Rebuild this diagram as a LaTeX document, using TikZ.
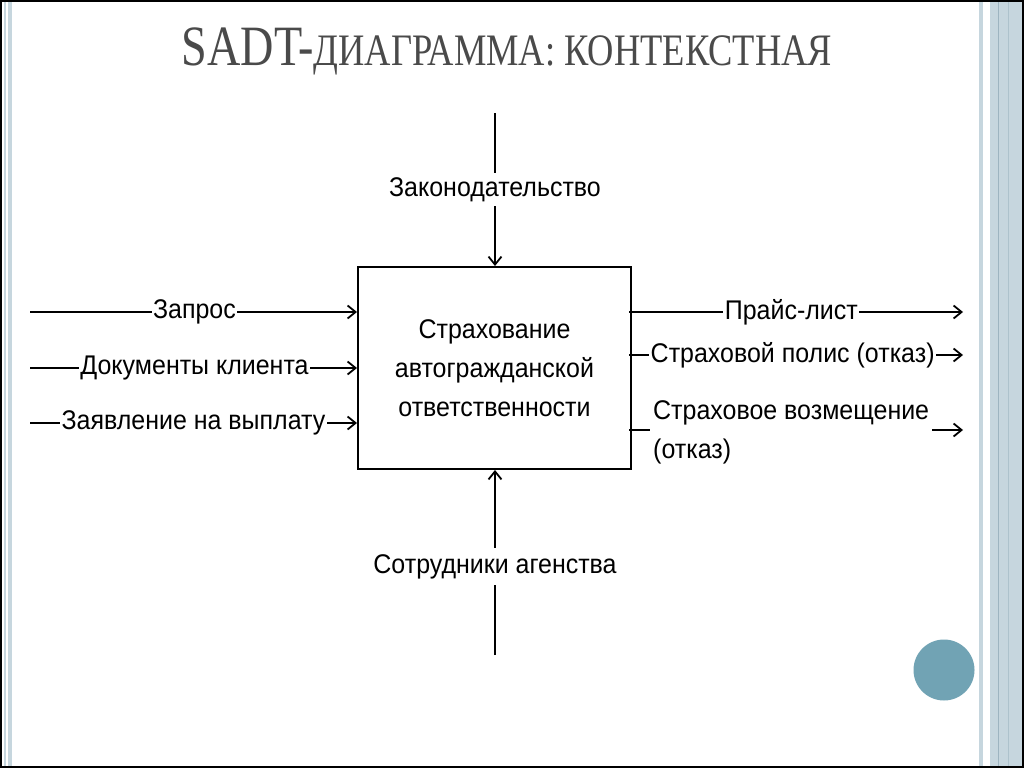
\documentclass[tikz,border=0pt]{standalone}
\usepackage{fontspec}
\setmainfont[FakeStretch=0.925]{Liberation Sans}
\newfontfamily\titlefont{Liberation Serif}
\usetikzlibrary{arrows.meta}
\definecolor{stripe}{HTML}{C6D6DE}
\definecolor{stripedark}{HTML}{9DB4C0}
\definecolor{dot}{HTML}{71A3B4}
\definecolor{titlegray}{HTML}{4A4A4A}
\tikzset{
  lbl/.style={font=\fontsize{27}{31}\selectfont, fill=white, inner xsep=1.5pt, inner ysep=4pt},
  flow/.style={line width=1.8pt, -{Straight Barb[length=8pt,width=13pt,line width=1.8pt]}},
  func/.style={draw, line width=2pt, minimum width=273pt, minimum height=202pt, inner sep=0pt,
    align=center, font=\fontsize{27}{39}\selectfont},
}
\begin{document}
\begin{tikzpicture}[x=1pt,y=-1pt]
\useasboundingbox (0,0) rectangle (1024,768);
% slide decoration
\fill[white] (0,0) rectangle (1024,768);
\fill[stripe] (4,1) rectangle (6,767);
\fill[stripe] (8,1) rectangle (12,767);
\fill[stripe] (979,1) rectangle (983,767);
\fill[stripe] (990,1) rectangle (1022,767);
\fill[stripedark] (997.5,1) rectangle (998.5,767);
\fill[stripedark!60!stripe] (1007.5,1) rectangle (1008.5,767);
\draw[black, line width=2pt] (1,1) rectangle (1023,767);
\fill[dot] (944,670) circle (30.5);
% title
\node[anchor=base, text=titlegray, inner sep=0pt] (title) at (507,66)
  {\scalebox{0.81}[1]{\titlefont\fontsize{57}{60}\selectfont SADT-\fontsize{45}{50}\selectfont ДИАГРАММА: КОНТЕКСТНАЯ}};
% function box
\node[func] (box) at (494.5,368) {Страхование\\автогражданской\\ответственности};
% control
\coordinate (ctop) at (495,113);
\draw[flow] (ctop) -- (box.north -| ctop) node[lbl, pos=0.5] (ctl) {Законодательство};
% mechanism
\coordinate (cbot) at (495,655);
\draw[flow] (cbot) -- (box.south -| cbot) node[lbl, pos=0.478, inner ysep=6pt] (mech) {Сотрудники агенства};
% inputs
\coordinate (i1) at (30,312);
\coordinate (i2) at (30,368);
\coordinate (i3) at (30,423);
\draw[flow] (i1) -- (box.west |- i1) node[lbl, pos=0.503] (in1) {Запрос};
\draw[flow] (i2) -- (box.west |- i2) node[lbl, pos=0.503] (in2) {Документы клиента};
\draw[flow] (i3) -- (box.west |- i3) node[lbl, pos=0.5] (in3) {Заявление на выплату};
% outputs
\coordinate (o1) at (963,312);
\coordinate (o2) at (963,355);
\coordinate (o3) at (963,430);
\draw[flow] (box.east |- o1) ++(-3,0) -- (o1) node[lbl, pos=0.486] (out1) {Прайс-лист};
\draw[flow] (box.east |- o2) ++(-3,0) -- (o2) node[lbl, pos=0.49] (out2) {Страховой полис (отказ)};
\draw[flow] (box.east |- o3) ++(-3,0) -- (o3);
\node[lbl, anchor=west, align=left, inner xsep=3pt, font=\fontsize{27}{39}\selectfont] (out3) at (650,432)
  {Страховое возмещение\\(отказ)};
\end{tikzpicture}
\end{document}
